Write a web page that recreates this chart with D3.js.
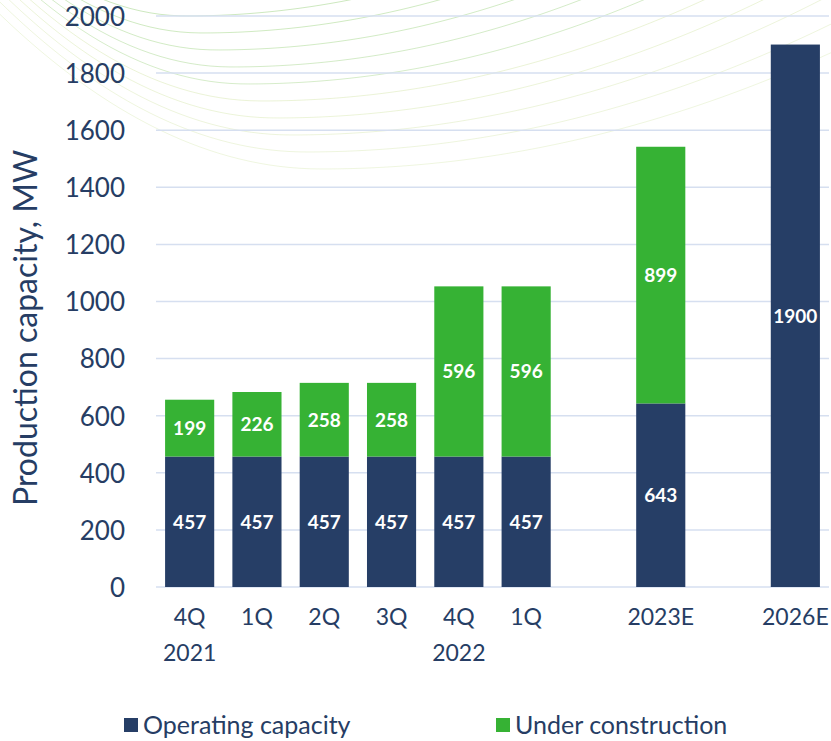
<!DOCTYPE html>
<html>
<head>
<meta charset="utf-8">
<script src="https://cdn.jsdelivr.net/npm/d3@7"></script>
<style>
  body { margin: 0; background: #fff; }
  svg { font-family: Lato, "Open Sans", sans-serif; }
</style>
</head>
<body>
<div id="chart"></div>
<script>
// categories (blank keys are the empty slots between groups)
var categories = ["4Q 2021", "1Q 2022a", "2Q 2022", "3Q 2022", "4Q 2022", "1Q 2023", "gap1", "2023E", "gap2", "2026E"];
var tickLines = [["4Q", "2021"], ["1Q"], ["2Q"], ["3Q"], ["4Q", "2022"], ["1Q"], [], ["2023E"], [], ["2026E"]];
var barCategories = ["4Q 2021", "1Q 2022a", "2Q 2022", "3Q 2022", "4Q 2022", "1Q 2023", "2023E", "2026E"];
var operating = [457, 457, 457, 457, 457, 457, 643, 1900];
var construction = [199, 226, 258, 258, 596, 596, 899, 0];
var yTicks = [0, 200, 400, 600, 800, 1000, 1200, 1400, 1600, 1800, 2000];
var seriesNames = ["Operating capacity", "Under construction"];

var width = 831;
var height = 741;
var margin = { left: 156, right: 2, top: 16, bottom: 154 };
var navy = "#263e66";
var green = "#36b234";
var textColor = "#263d64";

var svg = d3.select("#chart")
    .append("svg")
    .attr("width", width)
    .attr("height", height);

// faint decorative arcs in the background (not data)
var deco = svg.append("g").attr("fill", "none");
var arcLine = d3.line().curve(d3.curveBasis);
for (var i = 0; i < 10; i++) {
    var m = 16 + i * 17, xm = 186 + i * 15;
    var pts = [];
    for (var px = -20; px <= 850; px += 10) {
        var a = px < xm ? 0.0024 - i * 0.0001 : 0.0006 - i * 0.000017;
        pts.push([px, m - a * (px - xm) * (px - xm)]);
    }
    deco.append("path")
        .attr("d", arcLine(pts))
        .attr("stroke", i < 5 ? "#c8e6b8" : "#e2eec6")
        .attr("stroke-opacity", 0.9 - i * 0.04)
        .attr("stroke-width", 1);
}

var x = d3.scaleBand()
    .domain(categories)
    .range([margin.left, width - margin.right])
    .paddingInner(0.27)
    .paddingOuter(0.135);

var y = d3.scaleLinear()
    .domain([0, 2000])
    .range([height - margin.bottom, margin.top]);

// gridlines
svg.append("g")
    .selectAll("line")
    .data(yTicks)
    .join("line")
    .attr("x1", margin.left)
    .attr("x2", width - margin.right)
    .attr("y1", d => y(d))
    .attr("y2", d => y(d))
    .attr("stroke", "#d6dff0")
    .attr("stroke-width", 1.5);

// y axis labels
var yAxis = d3.axisLeft(y).tickValues(yTicks).tickFormat(d3.format("d")).tickSize(0).tickPadding(0);
var gY = svg.append("g")
    .attr("transform", "translate(125,0)")
    .call(yAxis);
gY.select(".domain").remove();
gY.selectAll("text")
    .attr("fill", textColor)
    .attr("font-size", 26)
    .attr("font-family", "Lato, sans-serif")
    .attr("dy", "0.36em");

svg.append("text")
    .attr("transform", "translate(37," + 328 + ") rotate(-90)")
    .attr("text-anchor", "middle")
    .attr("fill", textColor)
    .attr("font-size", 32)
    .text("Production capacity, MW");

// stacked bars
var rows = barCategories.map(function (c, i) {
    return { cat: c, op: operating[i], uc: construction[i] };
});

var bars = svg.append("g");
bars.selectAll("rect.op")
    .data(rows)
    .join("rect")
    .attr("class", "op")
    .attr("x", d => x(d.cat))
    .attr("width", x.bandwidth())
    .attr("y", d => y(d.op))
    .attr("height", d => y(0) - y(d.op))
    .attr("fill", navy);

bars.selectAll("rect.uc")
    .data(rows.filter(d => d.uc > 0))
    .join("rect")
    .attr("class", "uc")
    .attr("x", d => x(d.cat))
    .attr("width", x.bandwidth())
    .attr("y", d => y(d.op + d.uc))
    .attr("height", d => y(d.op) - y(d.op + d.uc))
    .attr("fill", green);

// value labels
var labels = svg.append("g")
    .attr("fill", "#fff")
    .attr("font-weight", "bold")
    .attr("font-size", 19)
    .attr("text-anchor", "middle");

labels.selectAll("text.op")
    .data(rows)
    .join("text")
    .attr("class", "op")
    .attr("x", d => x(d.cat) + x.bandwidth() / 2)
    .attr("y", d => y(d.op / 2))
    .attr("dy", "0.36em")
    .text(d => d.op);

labels.selectAll("text.uc")
    .data(rows.filter(d => d.uc > 0))
    .join("text")
    .attr("class", "uc")
    .attr("x", d => x(d.cat) + x.bandwidth() / 2)
    .attr("y", d => y(d.op + d.uc / 2))
    .attr("dy", "0.36em")
    .text(d => d.uc);

// x axis labels
var gX = svg.append("g")
    .attr("fill", textColor)
    .attr("font-size", 23)
    .attr("text-anchor", "middle");

categories.forEach(function (c, i) {
    tickLines[i].forEach(function (line, j) {
        gX.append("text")
            .attr("x", x(c) + x.bandwidth() / 2)
            .attr("y", y(0) + 38 + j * 36)
            .text(line);
    });
});

// legend
var legend = svg.append("g")
    .attr("font-size", 25)
    .attr("fill", textColor);
var legendX = [124, 496];
seriesNames.forEach(function (name, i) {
    legend.append("rect")
        .attr("x", legendX[i])
        .attr("y", 718)
        .attr("width", 14)
        .attr("height", 14)
        .attr("fill", i === 0 ? navy : green);
    legend.append("text")
        .attr("x", legendX[i] + 19)
        .attr("y", 734)
        .text(name);
});
</script>
</body>
</html>
